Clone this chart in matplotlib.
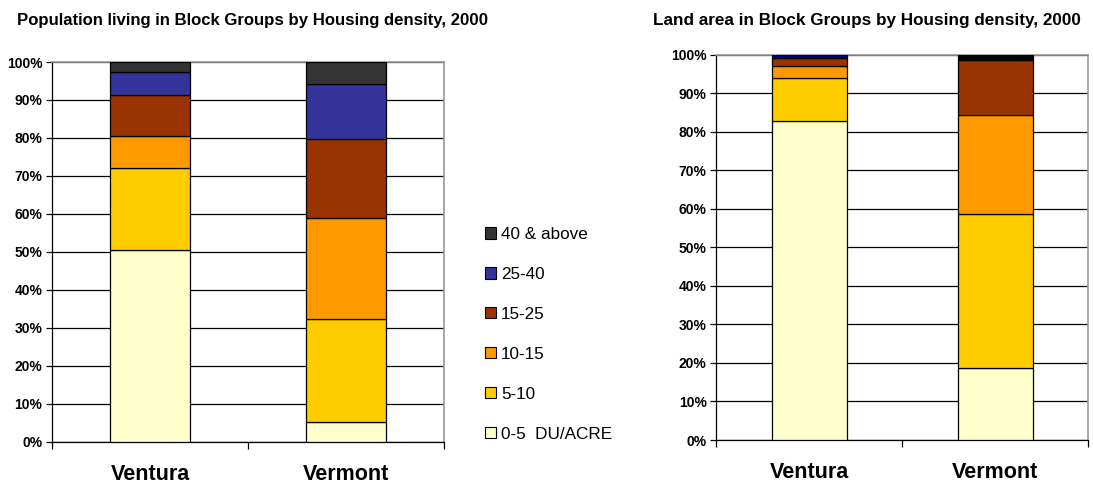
import matplotlib
matplotlib.use("Agg")
import matplotlib.pyplot as plt
from matplotlib.patches import Patch
from matplotlib.ticker import FixedLocator

plt.rcParams['font.family'] = ['Liberation Sans', 'DejaVu Sans']

categories = ["Ventura", "Vermont"]
series_labels = ["0-5  DU/ACRE", "5-10", "10-15", "15-25", "25-40", "40 & above"]

# Population share (%) by housing density
pop_values = {
    "0-5  DU/ACRE": [50.5, 5.2],
    "5-10": [21.7, 27.1],
    "10-15": [8.4, 26.6],
    "15-25": [10.6, 20.8],
    "25-40": [6.1, 14.5],
    "40 & above": [2.7, 5.8],
}

# Land area share (%) by housing density
land_values = {
    "0-5  DU/ACRE": [82.7, 18.8],
    "5-10": [11.2, 39.9],
    "10-15": [3.0, 25.5],
    "15-25": [2.2, 14.3],
    "25-40": [0.9, 0.0],
    "40 & above": [0.0, 1.5],
}

pop_colors = ["#FFFFCC", "#FFCC00", "#FF9900", "#993300", "#333399", "#333333"]
land_colors = ["#FFFFCC", "#FFCC00", "#FF9900", "#993300", "#000080", "#000000"]

yticks = [0, 10, 20, 30, 40, 50, 60, 70, 80, 90, 100]
ytick_labels = [f"{v}%" for v in yticks]

W, H = 1093, 483
fig = plt.figure(figsize=(W / 100, H / 100), dpi=100)


def make_axes(rect, values, colors):
    ax = fig.add_axes(rect)
    x = list(range(len(categories)))
    bottom = [0.0] * len(categories)
    for lab, col in zip(series_labels, colors):
        vals = values[lab]
        ax.bar(x, vals, width=0.405, bottom=bottom, color=col,
               edgecolor="black", linewidth=0.9, zorder=3)
        bottom = [b + v for b, v in zip(bottom, vals)]
    ax.set_xlim(-0.5, 1.5)
    ax.set_ylim(0, 100)
    ax.set_yticks(yticks)
    ax.set_yticklabels(ytick_labels, fontsize=10, fontweight="bold")
    ax.yaxis.grid(True, color="black", linewidth=0.9, zorder=0)
    ax.set_axisbelow(True)
    ax.xaxis.set_major_locator(FixedLocator([-0.5, 0.5, 1.5]))
    ax.xaxis.set_minor_locator(FixedLocator(x))
    ax.set_xticklabels([], minor=False)
    ax.set_xticklabels(categories, minor=True, fontsize=15.5, fontweight="bold")
    ax.tick_params(axis="x", which="major", direction="out", length=5, width=0.9)
    ax.tick_params(axis="x", which="minor", length=0, pad=16)
    ax.tick_params(axis="y", direction="out", length=4, width=0.9, pad=3)
    for s in ["left", "bottom"]:
        ax.spines[s].set_color("black")
        ax.spines[s].set_linewidth(0.9)
    for s in ["right", "top"]:
        ax.spines[s].set_color("#999999")
        ax.spines[s].set_linewidth(1.2)
    return ax


ax1 = make_axes([52 / W, 1 - 441.5 / H, (444 - 52) / W, (441.5 - 62) / H],
                pop_values, pop_colors)
ax2 = make_axes([716.3 / W, 1 - 440 / H, (1088.3 - 716.3) / W, (440 - 54.5) / H],
                land_values, land_colors)

fig.text(17 / W, 1 - 21 / H, "Population living in Block Groups by Housing density, 2000",
         fontsize=12.1, fontweight="bold", ha="left", va="center")
fig.text(653 / W, 1 - 21 / H, "Land area in Block Groups by Housing density, 2000",
         fontsize=12.3, fontweight="bold", ha="left", va="center")

handles = [Patch(facecolor=c, edgecolor="black", linewidth=0.8) for c in pop_colors]
leg = fig.legend(handles[::-1], series_labels[::-1], loc="upper left",
                 bbox_to_anchor=(485 / W, 1 - 227 / H), frameon=False,
                 fontsize=12.3, handlelength=0.63, handleheight=0.63,
                 handletextpad=0.3, labelspacing=1.46, borderpad=0, borderaxespad=0)

fig.savefig("out.png", dpi=100)
